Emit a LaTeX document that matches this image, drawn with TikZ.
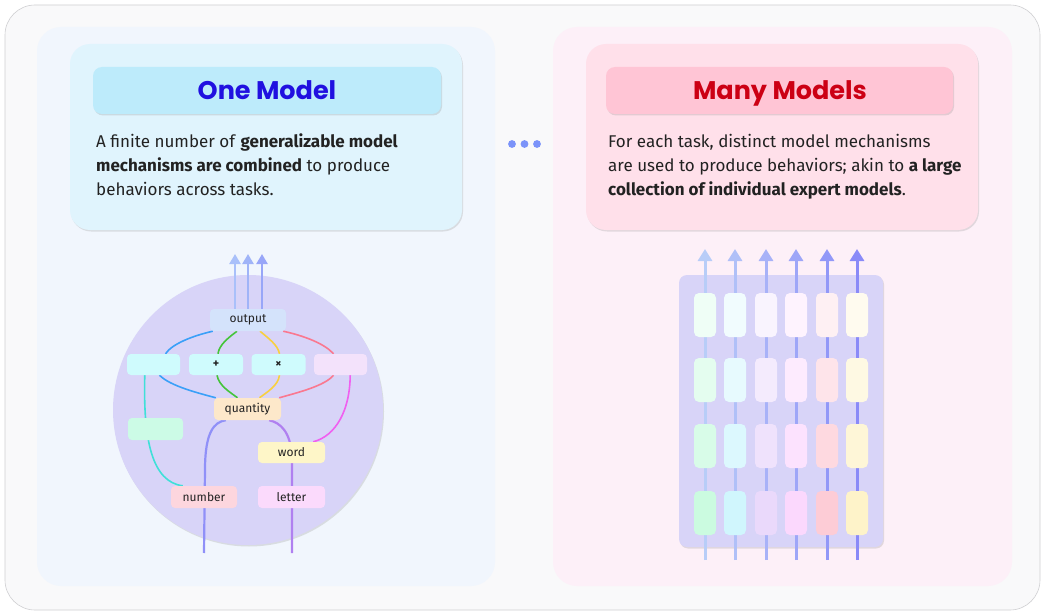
\documentclass[tikz,border=0pt]{standalone}
\usepackage{fontspec}
\setmainfont{Fira Sans}
\newfontfamily\titlefont{Poppins}
\usetikzlibrary{arrows.meta,shadows,calc}
\definecolor{frameF}{HTML}{F9F9FA}
\definecolor{frameD}{HTML}{CFCFD2}
\definecolor{panL}{HTML}{F1F6FD}
\definecolor{panR}{HTML}{FDF0F8}
\definecolor{cardL}{HTML}{E0F4FD}
\definecolor{cardR}{HTML}{FFE0EA}
\definecolor{bandL}{HTML}{BDEBFB}
\definecolor{bandR}{HTML}{FFC5D5}
\definecolor{titL}{HTML}{2010E0}
\definecolor{titR}{HTML}{CC0014}
\definecolor{dotc}{HTML}{7B93F9}
\definecolor{circF}{HTML}{D8D4F8}
\definecolor{cOut}{HTML}{D4E3FB}
\definecolor{cCyan}{HTML}{CFFBFD}
\definecolor{cLav}{HTML}{F3E2FB}
\definecolor{cQty}{HTML}{FDE8CA}
\definecolor{cGrn}{HTML}{CCFBE6}
\definecolor{cWord}{HTML}{FEF6C8}
\definecolor{cNum}{HTML}{FDD6DE}
\definecolor{cLet}{HTML}{FBDAFC}
\definecolor{lBlue}{HTML}{3AA0F8}
\definecolor{lGreen}{HTML}{44C43A}
\definecolor{lYel}{HTML}{F8D040}
\definecolor{lRed}{HTML}{FA7890}
\definecolor{lCyan}{HTML}{40E0D8}
\definecolor{lMag}{HTML}{F060F0}
\definecolor{lPur}{HTML}{9090F8}
\definecolor{lVio}{HTML}{B080F0}
\definecolor{aA}{HTML}{A9C0FA}
\definecolor{aB}{HTML}{A0B4F8}
\definecolor{aC}{HTML}{98A6F8}
\definecolor{k1}{HTML}{CBFBE0}
\definecolor{k2}{HTML}{D0F6FD}
\definecolor{k3}{HTML}{EAD9FB}
\definecolor{k4}{HTML}{FBD8FD}
\definecolor{k5}{HTML}{FDCCD6}
\definecolor{k6}{HTML}{FEF3C9}
\definecolor{m1}{HTML}{B8CDF8}
\definecolor{m2}{HTML}{B0C0F8}
\definecolor{m3}{HTML}{A8B2F8}
\definecolor{m4}{HTML}{9EA6F8}
\definecolor{m5}{HTML}{9298F8}
\definecolor{m6}{HTML}{8A8AF8}
\definecolor{txt}{HTML}{222222}
\pgfdeclarelayer{back}
\pgfdeclarelayer{mid}
\pgfsetlayers{back,mid,main}
\tikzset{
  softshadow/.style={drop shadow={opacity=0.22,shadow xshift=1pt,shadow yshift=-1.5pt}},
  mech/.style={rounded corners=4pt, inner sep=0pt, minimum height=21pt, font=\fontsize{12}{13}\selectfont, text=txt},
  wire/.style={line width=1.6pt},
  uparrow/.style={line width=2.6pt, -{Triangle[width=11pt,length=10pt]}},
  gridarrow/.style={line width=3pt, -{Triangle[width=14pt,length=12pt]}},
  gbox/.style={rounded corners=5pt, inner sep=0pt, minimum width=22pt, minimum height=44pt},
  bodytext/.style={anchor=base west, inner sep=0pt, font=\fontsize{17}{19}\selectfont, text=txt},
  titletext/.style={anchor=base, inner sep=0pt, font=\titlefont\bfseries\fontsize{25.5}{28}\selectfont},
}
\begin{document}
\begin{tikzpicture}[x=1pt,y=-1pt]
\useasboundingbox (0,0) rectangle (1045,615);
\begin{pgfonlayer}{back}
\fill[white] (0,0) rectangle (1045,615);
\draw[frameD, fill=frameF, line width=0.6pt, rounded corners=30pt] (5,5) rectangle (1040,610);
\fill[panL, rounded corners=24pt] (37,27) rectangle (495,586);
\fill[panR, rounded corners=24pt] (553,27) rectangle (1012,586);
\fill[cardL, rounded corners=20pt, softshadow] (70,44) rectangle (462,230);
\fill[cardR, rounded corners=20pt, softshadow] (586,44) rectangle (978,230);
\fill[bandL, rounded corners=9pt, softshadow] (93,67) rectangle (441,114);
\fill[bandR, rounded corners=9pt, softshadow] (606,67) rectangle (953,114);
\node[circle, fill=circF, minimum size=270pt, inner sep=0pt, softshadow] (circ) at (248,410) {};
\node[fill=circF, rounded corners=8pt, minimum width=204pt, minimum height=272pt, inner sep=0pt, softshadow] (grid) at (781,411) {};
\end{pgfonlayer}

% titles and texts
\node[titletext, text=titL] (tL) at (267,100) {One Model};
\node[titletext, text=titR] (tR) at (780,100) {Many Models};
\node[bodytext] (l1) at (96,148) {A finite number of \textbf{generalizable model}};
\node[bodytext] (l2) at (96,172) {\textbf{mechanisms are combined} to produce};
\node[bodytext] (l3) at (96,196) {behaviors across tasks.};
\node[bodytext] (r1) at (608,148) {For each task, distinct model mechanisms};
\node[bodytext] (r2) at (608,172) {are used to produce behaviors; akin to \textbf{a large}};
\node[bodytext] (r3) at (608,196) {\textbf{collection of individual expert models}.};

% dots
\foreach \i/\x in {1/512,2/524.5,3/537}{
  \fill[dotc] (\x,144) circle (3.9pt) node[inner sep=0pt] (dot\i) {};
}

% left mechanism nodes
\node[mech, fill=cOut, minimum width=76pt, minimum height=22pt] (output) at (248,320) {output};
\node[mech, fill=cCyan, minimum width=53pt] (lb) at (153.5,364.5) {};
\node[mech, fill=cCyan, minimum width=54pt] (plus) at (216,364.5) {\textbf{+}};
\node[mech, fill=cCyan, minimum width=54pt] (times) at (278.5,364.5) {\textbf{\char"00D7}};
\node[mech, fill=cLav, minimum width=53pt] (rb) at (340.5,364.5) {};
\node[mech, fill=cQty, minimum width=67pt, minimum height=22pt] (qty) at (247.5,409) {quantity};
\node[mech, fill=cGrn, minimum width=55pt, minimum height=22pt] (gb) at (155.5,429) {};
\node[mech, fill=cWord, minimum width=67pt] (word) at (291.5,452.5) {word};
\node[mech, fill=cNum, minimum width=66pt, minimum height=22pt] (number) at (204,497) {number};
\node[mech, fill=cLet, minimum width=67pt, minimum height=22pt] (letter) at (291.5,497) {letter};

\coordinate (ta) at (235,254);
\coordinate (tb) at (248,254);
\coordinate (tc) at (262,254);
\coordinate (numIn) at (204,553);
\coordinate (letIn) at (292,553);

% grid nodes
\foreach \c/\x in {1/705,2/735,3/766,4/796,5/827,6/857}{
  \coordinate (bot\c) at (\x,560);
  \coordinate (top\c) at (\x,249);
  \node[gbox, fill=k\c!30!white] (g1\c) at (\x,315) {};
  \node[gbox, fill=k\c!52!white] (g2\c) at (\x,380) {};
  \node[gbox, fill=k\c!75!white] (g3\c) at (\x,446) {};
  \node[gbox, fill=k\c] (g4\c) at (\x,513) {};
}

\begin{pgfonlayer}{mid}
% output arrows
\draw[uparrow, aA] ($(output.north)+(-13,6)$) -- (ta);
\draw[uparrow, aB] ($(output.north)+(0,6)$) -- (tb);
\draw[uparrow, aC] ($(output.north)+(14,6)$) -- (tc);
% blue
\draw[wire, lBlue] ($(output.south west)+(3,0)$) .. controls (192,336) and (172,344) .. ($(lb.north)+(12,0)$);
\draw[wire, lBlue] ($(lb.south)+(6,0)$) .. controls (170,386) and (198,393) .. ($(qty.north west)+(2,0)$);
% green
\draw[wire, lGreen] ($(output.south)+(-11,0)$) .. controls (228,338) and (219,345) .. ($(plus.north)+(2,0)$);
\draw[wire, lGreen] ($(plus.south)+(1,0)$) .. controls (219,386) and (230,392) .. ($(qty.north)+(-10,0)$);
% yellow
\draw[wire, lYel] ($(output.south)+(12,0)$) .. controls (268,338) and (278,345) .. ($(times.north)+(1,0)$);
\draw[wire, lYel] ($(times.south)+(1,0)$) .. controls (278,386) and (267,392) .. ($(qty.north)+(12,0)$);
% red
\draw[wire, lRed] ($(output.south east)+(-3,0)$) .. controls (305,336) and (325,344) .. ($(rb.north)+(-7,0)$);
\draw[wire, lRed] ($(rb.south)+(-7,0)$) .. controls (325,386) and (296,393) .. ($(qty.north east)+(-2,0)$);
% cyan
\draw[wire, lCyan] ($(lb.south west)+(18,0)$) .. controls (143,440) and (152,482) .. ($(number.north west)+(12,0)$);
% magenta
\draw[wire, lMag] ($(rb.south east)+(-17,0)$) .. controls (350,410) and (336,436) .. ($(word.north east)+(-12,0)$);
% purple from bottom to quantity
\draw[wire, line width=2.2pt, lPur] (numIn) -- (205,470) .. controls (205,432) and (214,422) .. ($(qty.south west)+(12,0)$);
% violet from bottom to quantity
\draw[wire, line width=2.2pt, lVio] (letIn) -- (292,455) .. controls (290,432) and (281,423) .. ($(qty.south east)+(-12,0)$);
% grid arrows
\foreach \c in {1,...,6}{
  \draw[gridarrow, m\c] (bot\c) -- (top\c);
}
\end{pgfonlayer}
\end{tikzpicture}
\end{document}
